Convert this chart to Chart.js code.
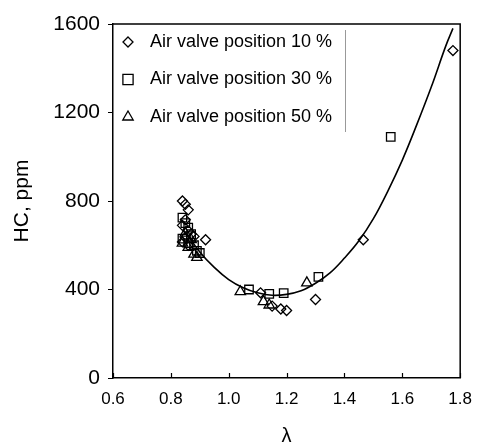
<!DOCTYPE html>
<html>
<head>
<meta charset="utf-8">
<script src="https://cdn.jsdelivr.net/npm/chart.js@4"></script>
<style>
  html, body { margin: 0; padding: 0; background: #fff; }
</style>
</head>
<body>
<canvas id="hcChart" width="483" height="448"></canvas>
<script>
// air valve 10 % (diamonds)
const lambda10 = [0.84, 0.85, 0.86, 0.85, 0.84, 0.86, 0.87, 0.85, 0.84, 0.86, 0.88, 0.92, 1.11, 1.15, 1.18, 1.20, 1.30, 1.465, 1.775];
const hc10     = [800, 785, 760, 715, 690, 665, 650, 635, 615, 600, 640, 625, 385, 325, 312, 305, 355, 625, 1480];

// air valve 30 % (squares)
const lambda30 = [0.84, 0.85, 0.86, 0.87, 0.84, 0.86, 0.88, 0.89, 0.90, 1.07, 1.14, 1.19, 1.31, 1.56];
const hc30     = [725, 700, 680, 650, 630, 610, 600, 575, 565, 400, 380, 384, 457, 1090];

// air valve 50 % (triangles)
const lambda50 = [0.85, 0.87, 0.84, 0.86, 0.88, 0.89, 1.04, 1.12, 1.14, 1.27];
const hc50     = [655, 625, 610, 590, 560, 545, 390, 345, 330, 430];

// fitted curve
const lambdaFit = [0.85, 0.9, 0.95, 1.0, 1.05, 1.1, 1.15, 1.2, 1.25, 1.3, 1.35, 1.4, 1.45, 1.5, 1.55, 1.6, 1.65, 1.7, 1.75, 1.775];
const hcFit     = [660, 570, 500, 445, 408, 385, 374, 378, 394, 428, 475, 542, 620, 720, 845, 985, 1145, 1315, 1500, 1580];

const seriesLabels = ["Air valve position 10 %", "Air valve position 30 %", "Air valve position 50 %"];
const xTicks = [0.6, 0.8, 1.0, 1.2, 1.4, 1.6, 1.8];
const yTicks = [0, 400, 800, 1200, 1600];

const FONT = '"Liberation Sans", Arial, sans-serif';

function pts(xs, ys) {
  return xs.map((x, i) => ({x: x, y: ys[i]}));
}

// frame (top + right) and inward x ticks
const frame = {
  id: 'frame',
  afterDraw(chart) {
    const ctx = chart.ctx, a = chart.chartArea;
    ctx.save();
    ctx.strokeStyle = '#000';
    ctx.lineWidth = 1.5;
    ctx.beginPath();
    ctx.moveTo(a.left, a.top);
    ctx.lineTo(a.right, a.top);
    ctx.lineTo(a.right, a.bottom);
    ctx.stroke();
    const xs = chart.scales.x;
    ctx.lineWidth = 1.2;
    xTicks.forEach(v => {
      const px = Math.round(xs.getPixelForValue(v)) + 0.5;
      ctx.beginPath();
      ctx.moveTo(px, a.bottom);
      ctx.lineTo(px, a.bottom - 5);
      ctx.stroke();
    });
    ctx.restore();
  }
};

function marker(ctx, style, x, y, r) {
  ctx.beginPath();
  if (style === 'rectRot') {
    ctx.moveTo(x, y - r); ctx.lineTo(x + r, y); ctx.lineTo(x, y + r); ctx.lineTo(x - r, y); ctx.closePath();
  } else if (style === 'rect') {
    ctx.rect(x - r * 0.85, y - r * 0.85, r * 1.7, r * 1.7);
  } else {
    ctx.moveTo(x, y - r); ctx.lineTo(x + r * 0.87, y + r * 0.5); ctx.lineTo(x - r * 0.87, y + r * 0.5); ctx.closePath();
  }
  ctx.stroke();
}

// legend drawn inside the plot, top left
const insideLegend = {
  id: 'insideLegend',
  afterDraw(chart) {
    const ctx = chart.ctx, a = chart.chartArea;
    ctx.save();
    ctx.strokeStyle = '#999';
    ctx.lineWidth = 1;
    ctx.beginPath();
    ctx.moveTo(345.5, a.top + 6);
    ctx.lineTo(345.5, a.top + 108);
    ctx.stroke();
    ctx.font = '18px ' + FONT;
    ctx.textBaseline = 'middle';
    ctx.fillStyle = '#000';
    ctx.strokeStyle = '#000';
    ctx.lineWidth = 1.3;
    chart.data.datasets.forEach((ds, i) => {
      if (ds.showLine) return;
      const y = a.top + 18 + i * 37.5;
      marker(ctx, ds.pointStyle, a.left + 15, y, ds.pointRadius);
      ctx.fillText(ds.label, a.left + 37, y);
    });
    ctx.restore();
  }
};

const ctx = document.getElementById('hcChart').getContext('2d');
const chart = new Chart(ctx, {
  type: 'scatter',
  data: {
    datasets: [
      { label: seriesLabels[0], data: pts(lambda10, hc10), pointStyle: 'rectRot', pointRadius: 5,
        borderColor: '#000', backgroundColor: 'rgba(0,0,0,0)', borderWidth: 1.3 },
      { label: seriesLabels[1], data: pts(lambda30, hc30), pointStyle: 'rect', pointRadius: 6,
        borderColor: '#000', backgroundColor: 'rgba(0,0,0,0)', borderWidth: 1.3 },
      { label: seriesLabels[2], data: pts(lambda50, hc50), pointStyle: 'triangle', pointRadius: 6,
        borderColor: '#000', backgroundColor: 'rgba(0,0,0,0)', borderWidth: 1.3 },
      { label: 'fit', data: pts(lambdaFit, hcFit), showLine: true, pointRadius: 0,
        borderColor: '#000', borderWidth: 1.6, tension: 0.4 }
    ]
  },
  options: {
    responsive: false,
    animation: false,
    layout: { padding: { left: 0, right: 21, top: 24, bottom: 0 } },
    plugins: { legend: { display: false }, tooltip: { enabled: false } },
    scales: {
      x: {
        type: 'linear', min: 0.6, max: 1.8,
        afterBuildTicks: s => { s.ticks = xTicks.map(v => ({value: v})); },
        afterFit: s => { s.height = 70; },
        grid: { display: true, drawOnChartArea: false, drawTicks: false },
        border: { display: true, color: '#000', width: 1.5 },
        ticks: { color: '#000', padding: 11, font: { family: FONT, size: 17 }, callback: v => v.toFixed(1) },
        title: { display: true, text: 'λ', color: '#000', font: { family: FONT, size: 20 }, padding: { bottom: 0 } }
      },
      y: {
        type: 'linear', min: 0, max: 1600,
        afterBuildTicks: s => { s.ticks = yTicks.map(v => ({value: v})); },
        afterFit: s => { s.width = 113; },
        grid: { display: true, drawOnChartArea: false, drawTicks: true, tickLength: 5, color: '#000' },
        border: { display: true, color: '#000', width: 1.5 },
        ticks: { color: '#000', padding: 8, font: { family: FONT, size: 21 }, callback: v => String(v) },
        title: { display: true, text: 'HC, ppm', color: '#000', font: { family: FONT, size: 21 }, padding: { top: 10 } }
      }
    }
  },
  plugins: [frame, insideLegend]
});
</script>
</body>
</html>
